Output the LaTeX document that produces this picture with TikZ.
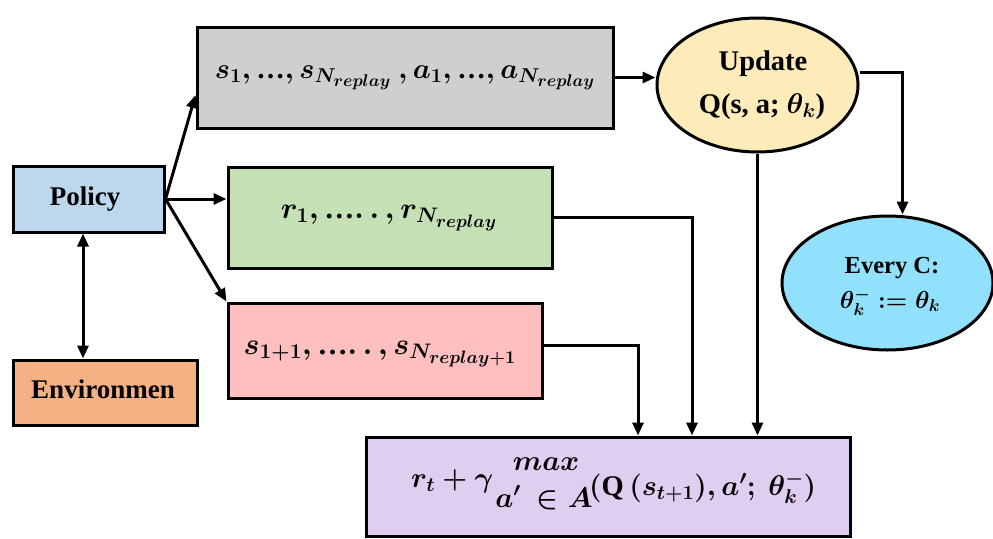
\documentclass[tikz,border=0pt]{standalone}
\usepackage{fix-cm}
\usepackage{fontspec}
\setmainfont{Liberation Serif}
\DeclareMathSizes{30}{30}{21}{18}
\DeclareMathSizes{28.5}{28.5}{20}{17}
\usetikzlibrary{shapes.geometric,arrows.meta,calc}
\definecolor{graybox}{HTML}{D0CECE}
\definecolor{updcol}{RGB}{253,236,186}
\definecolor{everycol}{RGB}{145,225,252}
\definecolor{polcol}{HTML}{BDD7EE}
\definecolor{envcol}{HTML}{F4B183}
\definecolor{greencol}{HTML}{C5E0B4}
\definecolor{pinkcol}{HTML}{FFBFBF}
\definecolor{purpcol}{RGB}{223,206,240}
\newcommand{\tdt}{\mbox{\normalfont\bfseries …}}
\begin{document}
\begin{tikzpicture}[x=1pt,y=-1pt,
  box/.style={draw=black, line width=3pt, rectangle, inner sep=0pt},
  oval/.style={draw=black, line width=3pt, ellipse, inner sep=0pt},
  conn/.style={line width=3pt, -{Triangle[length=13pt,width=11pt]}},
  dconn/.style={line width=3pt, {Triangle[length=13pt,width=11pt]}-{Triangle[length=13pt,width=11pt]}},
  lbl/.style={font=\fontsize{27}{32}\selectfont\bfseries\boldmath, inner sep=0pt},
  ulbl/.style={font=\fontsize{28.5}{34}\selectfont\bfseries\boldmath, inner sep=0pt},
  elbl/.style={font=\fontsize{24.5}{30}\selectfont\bfseries\boldmath, inner sep=0pt},
  mlbl/.style={font=\fontsize{30}{36}\selectfont\bfseries\boldmath, inner sep=0pt},
  slbl/.style={font=\fontsize{28.5}{34}\selectfont\bfseries\boldmath, inner sep=0pt}]
\useasboundingbox (0,0) rectangle (993,538);
% boxes
\node[box, fill=graybox, minimum width=416pt, minimum height=101pt] (gray) at (405,77.5) {};
\node[oval, fill=updcol, minimum width=201pt, minimum height=134pt] (upd) at (757.5,85) {};
\node[oval, fill=everycol, minimum width=211pt, minimum height=134pt] (every) at (887.5,283) {};
\node[box, fill=polcol, minimum width=151pt, minimum height=66pt] (policy) at (88.5,199) {};
\node[box, fill=envcol, minimum width=184pt, minimum height=65pt] (env) at (105,392.5) {};
\node[box, fill=greencol, minimum width=324pt, minimum height=101pt] (green) at (390,217.5) {};
\node[box, fill=pinkcol, minimum width=314pt, minimum height=95pt] (pink) at (385,350.5) {};
\node[box, fill=purpcol, minimum width=484pt, minimum height=99pt] (purple) at (608,486.5) {};
% labels
\node[slbl, anchor=base] (graytxt) at (405,78) {$s_1, \tdt, s_{N_{replay}}\ ,a_1, \tdt, a_{N_{replay}}$};
\node[ulbl, anchor=base] (updA) at (763,70) {Update};
\node[ulbl, anchor=base] (updB) at (762,113) {Q(s, a; $\theta_k$)};
\node[elbl, anchor=base] (everyA) at (892,273) {Every C:};
\node[elbl, anchor=base] (everyB) at (890,308) {$\theta_k^- := \theta_k$};
\node[lbl, anchor=base] (poltxt) at (85,205) {Policy};
\node[lbl, anchor=base] (envtxt) at (103,398) {Environmen};
\node[mlbl, anchor=base] (greentxt) at (389,218) {$r_1, \tdt.\,.\,, r_{N_{replay}}$};
\node[mlbl, anchor=base] (pinktxt) at (380,354) {$s_{1+1}, \tdt.\,.\,, s_{N_{replay+1}}$};
\node[slbl, anchor=base west] (pA) at (411,487) {$r_t + \gamma$};
\node[slbl, anchor=base] (pB) at (546,470) {$max$};
\node[slbl, anchor=base] (pC) at (544,507) {$a'\ \in A$};
\node[slbl, anchor=base west] (pD) at (589,495) {$(\textbf{Q}\,(s_{t+1}), a';\ \theta_k^-)$};
% connectors
\draw[conn] (policy.east) -- ($(gray.west)+(0,17.5)$);
\draw[conn] (policy.east) -- (green.west |- policy.east);
\draw[conn] (policy.east) -- (pink.north west);
\draw[dconn] ([xshift=-5.5pt]policy.south) -- ([xshift=-5.5pt]policy.south |- env.north);
\draw[conn] (gray.east) -- (gray.east -| upd.west);
\draw[conn] ([yshift=13pt]upd.east) -| ([xshift=15pt]every.north);
\draw[conn] (upd.south) -- (upd.south |- purple.north);
\draw[conn] (green.east) -| ([xshift=84pt]purple.north);
\draw[conn] ([yshift=5.5pt]pink.east) -| ([xshift=30pt]purple.north);
\end{tikzpicture}
\end{document}
